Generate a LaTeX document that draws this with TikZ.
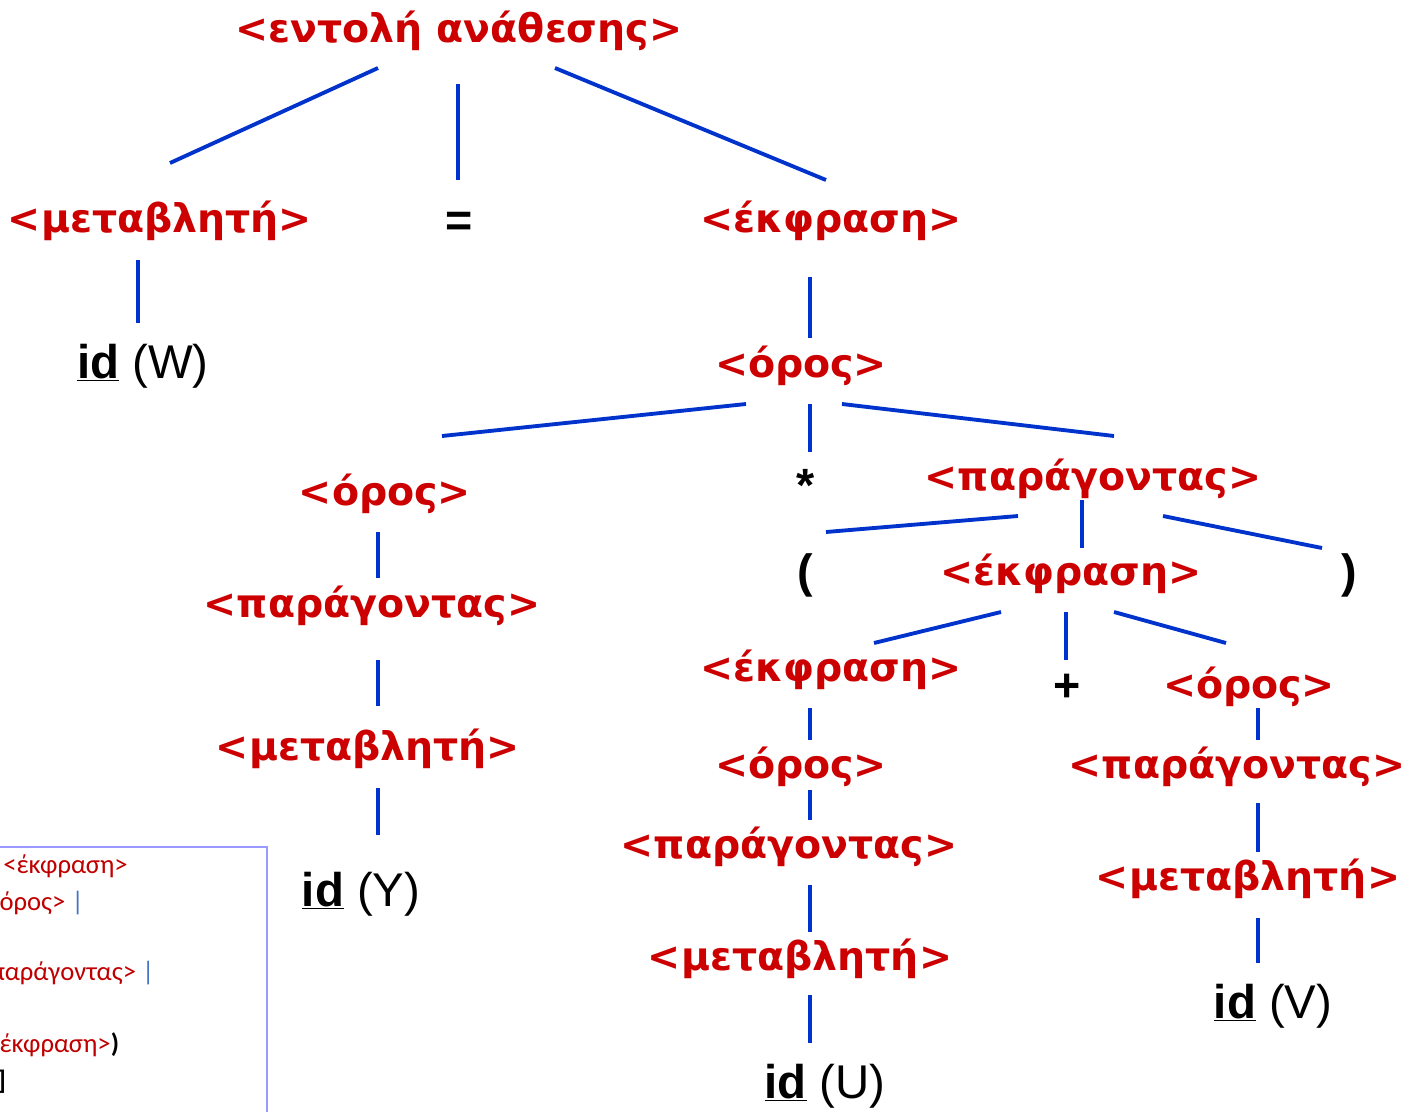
\documentclass[tikz,border=0pt]{standalone}
\usepackage{fontspec}
\setmainfont{DejaVu Sans}
\newfontfamily\arialfont{Liberation Sans}
\newfontfamily\boxfont{Carlito}
\usepackage{xcolor}
\usepackage{tikz}
\usetikzlibrary{calc}
\definecolor{ntred}{RGB}{204,0,0}
\definecolor{edgeblue}{RGB}{0,51,204}
\definecolor{boxline}{RGB}{153,153,255}
\definecolor{boxred}{RGB}{192,0,0}
\definecolor{boxblue}{RGB}{68,114,196}

\begin{document}
\begin{tikzpicture}[x=0.75pt,y=0.75pt,yscale=-1,xscale=1,
  nt/.style={text=ntred,font=\bfseries\fontsize{29.6}{29.6}\selectfont,inner sep=0.75pt},
  leaf/.style={font=\arialfont\fontsize{35.5}{35.5}\selectfont,inner sep=0.75pt},
  sym/.style={font=\arialfont\bfseries\fontsize{35}{35}\selectfont,inner sep=0.75pt},
  edge/.style={draw=edgeblue,line width=2.9pt},
  gram/.style={font=\boxfont\fontsize{20}{20}\selectfont,text=boxred,anchor=west,inner sep=0pt}]
\useasboundingbox (0,0) rectangle (1409,1111);

% Nodes
\node[nt] (root) at (459,31) {<εντολή ανάθεσης>};
\node[nt] (var1) at (160,221) {<μεταβλητή>};
\node[sym] (eq) at (459,224) {=};
\node[nt] (expr1) at (831,221) {<έκφραση>};
\node[leaf] (idW) at (143,366) {\underline{\textbf{id}} (W)};
\node[nt] (term1) at (801,366) {<όρος>};
\node[nt] (term2) at (385,494) {<όρος>};
\node[sym] (star) at (806,485) {*};
\node[nt] (fac1) at (1093,479) {<παράγοντας>};
\node[nt] (fac2) at (372,606) {<παράγοντας>};
\node[sym] (lpar) at (805,575) {(};
\node[nt] (expr2) at (1071,574) {<έκφραση>};
\node[sym] (rpar) at (1349,575) {)};
\node[nt] (var2) at (368,749) {<μεταβλητή>};
\node[nt] (expr3) at (831,670) {<έκφραση>};
\node[sym] (plus) at (1067,688) {+};
\node[nt] (term3) at (1249,687) {<όρος>};
\node[leaf] (idY) at (361,894) {\underline{\textbf{id}} (Y)};
\node[nt] (term4) at (801,767) {<όρος>};
\node[nt] (fac3) at (1237,767) {<παράγοντας>};
\node[nt] (fac4) at (789,847) {<παράγοντας>};
\node[nt] (var3) at (1248,879) {<μεταβλητή>};
\node[nt] (var4) at (800,959) {<μεταβλητή>};
\node[leaf] (idV) at (1273,1006) {\underline{\textbf{id}} (V)};
\node[leaf] (idU) at (825,1086) {\underline{\textbf{id}} (U)};

% Edges
\draw[edge] ($(root)+(-81,37)$) -- ($(var1)+(10,-58)$);
\draw[edge] ($(root)+(-1,53)$) -- ($(eq)+(-1,-44)$);
\draw[edge] ($(root)+(96,37)$) -- ($(expr1)+(-5,-41)$);
\draw[edge] ($(var1)+(-22,39)$) -- ($(idW)+(-5,-43)$);
\draw[edge] ($(expr1)+(-21,56)$) -- ($(term1)+(9,-28)$);
\draw[edge] ($(term1)+(-55,38)$) -- ($(term2)+(57,-58)$);
\draw[edge] ($(term1)+(9,38)$) -- ($(star)+(4,-33)$);
\draw[edge] ($(term1)+(41,38)$) -- ($(fac1)+(21,-43)$);
\draw[edge] ($(term2)+(-7,38)$) -- ($(fac2)+(6,-28)$);
\draw[edge] ($(fac1)+(-75,37)$) -- ($(lpar)+(21,-43)$);
\draw[edge] ($(fac1)+(-11,21)$) -- ($(expr2)+(11,-26)$);
\draw[edge] ($(fac1)+(70,37)$) -- ($(rpar)+(-27,-27)$);
\draw[edge] ($(fac2)+(6,54)$) -- ($(var2)+(10,-43)$);
\draw[edge] ($(expr2)+(-70,38)$) -- ($(expr3)+(43,-27)$);
\draw[edge] ($(expr2)+(-5,38)$) -- ($(plus)+(-1,-28)$);
\draw[edge] ($(expr2)+(43,38)$) -- ($(term3)+(-23,-44)$);
\draw[edge] ($(var2)+(10,39)$) -- ($(idY)+(17,-59)$);
\draw[edge] ($(expr3)+(-21,38)$) -- ($(term4)+(9,-27)$);
\draw[edge] ($(term3)+(9,21)$) -- ($(fac3)+(21,-27)$);
\draw[edge] ($(term4)+(9,23)$) -- ($(fac4)+(21,-27)$);
\draw[edge] ($(fac3)+(21,36)$) -- ($(var3)+(10,-27)$);
\draw[edge] ($(fac4)+(21,38)$) -- ($(var4)+(10,-27)$);
\draw[edge] ($(var3)+(10,39)$) -- ($(idV)+(-15,-43)$);
\draw[edge] ($(var4)+(10,36)$) -- ($(idU)+(-15,-43)$);

% grammar box, cut at the left and bottom
\begin{scope}
\clip (0,840) rectangle (280,1111);
\draw[boxline,line width=1pt] (-20,847) rectangle (267,1130);
\node[gram] (g1) at (3,866) {<έκφραση>};
\node[gram] (g2) at (-14,903) {<όρος> \textcolor{boxblue}{|}};
\node[gram] (g3) at (-10,973) {παράγοντας> \textcolor{boxblue}{|}};
\node[gram] (g4) at (-14,1045) {<έκφραση>\textcolor{black}{\textbf{)}}};
\node[gram,text=black] (g5) at (-3,1082) {\textbf{]}};
\end{scope}
\end{tikzpicture}
\end{document}
